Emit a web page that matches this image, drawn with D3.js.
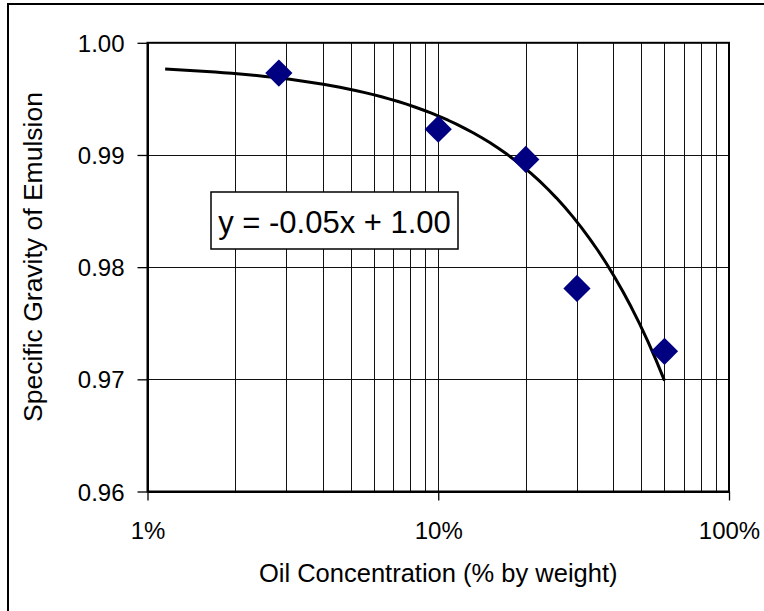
<!DOCTYPE html>
<html>
<head>
<meta charset="utf-8">
<script src="https://cdn.jsdelivr.net/npm/d3@7"></script>
<style>
  body { margin: 0; background: #fff; }
  text { font-family: "Liberation Sans", Arial, sans-serif; fill: #000; }
</style>
</head>
<body>
<div id="chart"></div>
<script>
// measured points (oil fraction by weight, specific gravity)
var oilConc = [0.0283, 0.10, 0.20, 0.30, 0.60];
var specGrav = [0.9973, 0.9923, 0.9896, 0.9781, 0.9725];

// linear trendline as drawn by the spreadsheet (shown label rounds it)
var trendSlope = -0.0472;
var trendIntercept = 0.9982;
var trendFrom = 0.0115, trendTo = 0.60;
var trendLabel = "y = -0.05x + 1.00";

var xTicks = [0.01, 0.1, 1];
var xTickLabels = ["1%", "10%", "100%"];
var xGrid = [0.02, 0.03, 0.04, 0.05, 0.06, 0.07, 0.08, 0.09, 0.1,
             0.2, 0.3, 0.4, 0.5, 0.6, 0.7, 0.8, 0.9];
var yTicks = [0.96, 0.97, 0.98, 0.99, 1.00];
var yGrid = [0.97, 0.98, 0.99];

var W = 764, H = 611;
var plotL = 147.5, plotR = 729, plotT = 42.8, plotB = 491.5;

var svg = d3.select("#chart").append("svg")
  .attr("width", W).attr("height", H);

// outer chart frame (runs off right/bottom in the original)
svg.append("rect")
  .attr("x", 8).attr("y", 4)
  .attr("width", W + 20).attr("height", H + 20)
  .attr("fill", "#fff").attr("stroke", "#000").attr("stroke-width", 2);

var x = d3.scaleLog().domain([0.01, 1]).range([plotL, plotR]);
var y = d3.scaleLinear().domain([0.96, 1.00]).range([plotB, plotT]);

// grid
svg.append("g").selectAll("line").data(xGrid).enter().append("line")
  .attr("x1", d => Math.round(x(d)) + 0.5).attr("x2", d => Math.round(x(d)) + 0.5)
  .attr("y1", plotT).attr("y2", plotB)
  .attr("stroke", "#111").attr("stroke-width", 1);

svg.append("g").selectAll("line").data(yGrid).enter().append("line")
  .attr("x1", plotL).attr("x2", plotR)
  .attr("y1", d => Math.round(y(d)) + 0.5).attr("y2", d => Math.round(y(d)) + 0.5)
  .attr("stroke", "#111").attr("stroke-width", 1);

// plot border
svg.append("rect")
  .attr("x", plotL).attr("y", plotT)
  .attr("width", plotR - plotL).attr("height", plotB - plotT)
  .attr("fill", "none").attr("stroke", "#000").attr("stroke-width", 2);

// x axis
var xAxis = svg.append("g")
  .attr("transform", "translate(0," + plotB + ")")
  .call(d3.axisBottom(x).tickValues(xTicks).tickSize(9).tickSizeOuter(0)
    .tickFormat((d, i) => xTickLabels[i]));
xAxis.select(".domain").attr("stroke-width", 2);
xAxis.selectAll(".tick line").attr("stroke-width", 1.3);
xAxis.selectAll(".tick text")
  .attr("y", 47).attr("dy", 0)
  .style("font-size", "24px")
  .style("font-family", "'Liberation Sans', Arial, sans-serif");

// y axis
var yAxis = svg.append("g")
  .attr("transform", "translate(" + plotL + ",0)")
  .call(d3.axisLeft(y).tickValues(yTicks).tickSize(10).tickSizeOuter(0)
    .tickFormat(d3.format(".2f")));
yAxis.select(".domain").attr("stroke-width", 2);
yAxis.selectAll(".tick line").attr("stroke-width", 1.3);
yAxis.selectAll(".tick text")
  .attr("x", -23).attr("dy", "0.36em")
  .style("font-size", "24px")
  .style("font-family", "'Liberation Sans', Arial, sans-serif");

// trendline
var trendPts = d3.range(0, 61).map(function(i) {
  var lx = Math.log10(trendFrom) + (Math.log10(trendTo) - Math.log10(trendFrom)) * i / 60;
  var xv = Math.pow(10, lx);
  return [x(xv), y(trendSlope * xv + trendIntercept)];
});
svg.append("path")
  .attr("d", d3.line()(trendPts))
  .attr("fill", "none").attr("stroke", "#000").attr("stroke-width", 3)
  .attr("stroke-linejoin", "round");

// markers
svg.append("g").selectAll("path").data(oilConc).enter().append("path")
  .attr("d", d3.symbol(d3.symbolSquare, 370))
  .attr("transform", (d, i) => "translate(" + x(d) + "," + y(specGrav[i]) + ") rotate(45)")
  .attr("fill", "#000080");

// equation label
svg.append("rect")
  .attr("x", 211).attr("y", 192).attr("width", 247).attr("height", 57)
  .attr("fill", "#fff").attr("stroke", "#000").attr("stroke-width", 1.5);
svg.append("text")
  .attr("x", 334.5).attr("y", 232.5)
  .attr("text-anchor", "middle")
  .style("font-size", "31px")
  .text(trendLabel);

// axis titles
svg.append("text")
  .attr("x", (plotL + plotR) / 2).attr("y", 582)
  .attr("text-anchor", "middle")
  .style("font-size", "25.5px")
  .text("Oil Concentration (% by weight)");

svg.append("text")
  .attr("transform", "translate(42,257) rotate(-90)")
  .attr("text-anchor", "middle")
  .style("font-size", "26.5px")
  .text("Specific Gravity of Emulsion");
</script>
</body>
</html>
